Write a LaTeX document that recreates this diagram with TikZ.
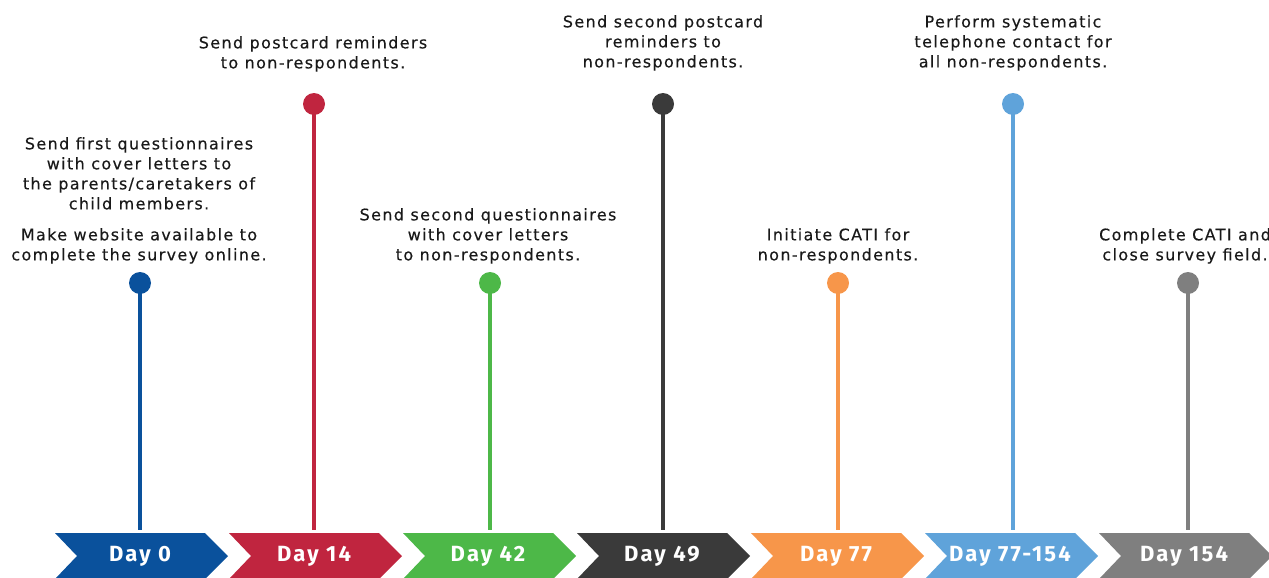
\documentclass[tikz,border=0pt]{standalone}
\usepackage{fontspec}
\setmainfont{DejaVu Sans}[LetterSpace=8.5,FakeBold=0.3]
\newfontfamily\dayfont{Fira Sans}[LetterSpace=10]
\begin{document}
\begin{tikzpicture}[x=1pt,y=-1pt,
  lbl/.style={align=center,font=\fontsize{16}{20}\selectfont,text=black!90,inner sep=0pt,anchor=north},
  daytxt/.style={font=\dayfont\fontsize{22}{22}\selectfont\bfseries,text=white,inner sep=0pt},
  pin/.style={circle,fill=#1,minimum size=22pt,inner sep=0pt},
  stem/.style={draw=#1,line width=4pt}]
\useasboundingbox (0,0) rectangle (1269,578);
\definecolor{cA}{HTML}{0A519C}
\definecolor{cB}{HTML}{C0253F}
\definecolor{cC}{HTML}{4DB848}
\definecolor{cD}{HTML}{3A3A3A}
\definecolor{cE}{HTML}{F7964A}
\definecolor{cF}{HTML}{5FA3DA}
\definecolor{cG}{HTML}{7F7F7F}
\newcommand{\chev}[4]{%
  \fill[#2] (#1,533) -- ++(150,0) -- ++(23,23) -- ++(-23,23) -- ++(-150,0) -- ++(22,-23) -- cycle;
  \node[daytxt] (#4) at (#1+85,556) {#3};}
\chev{55}{cA}{Day 0}{d0}
\chev{229}{cB}{Day 14}{d14}
\chev{403}{cC}{Day 42}{d42}
\chev{577}{cD}{Day 49}{d49}
\chev{751}{cE}{Day 77}{d77}
\chev{925}{cF}{Day 77-154}{d77b}
\chev{1099}{cG}{Day 154}{d154}
% pins
\node[pin=cA] (p0) at (140,283) {};
\node[pin=cB] (p14) at (314,104) {};
\node[pin=cC] (p42) at (490,283) {};
\node[pin=cD] (p49) at (663,104) {};
\node[pin=cE] (p77) at (838,283) {};
\node[pin=cF] (p77b) at (1013,104) {};
\node[pin=cG] (p154) at (1188,283) {};
\coordinate (b0) at (140,530);
\coordinate (b14) at (314,530);
\coordinate (b42) at (490,530);
\coordinate (b49) at (663,530);
\coordinate (b77) at (838,530);
\coordinate (b77b) at (1013,530);
\coordinate (b154) at (1188,530);
\draw[stem=cA] (p0.center) -- (b0);
\draw[stem=cB] (p14.center) -- (b14);
\draw[stem=cC] (p42.center) -- (b42);
\draw[stem=cD] (p49.center) -- (b49);
\draw[stem=cE] (p77.center) -- (b77);
\draw[stem=cF] (p77b.center) -- (b77b);
\draw[stem=cG] (p154.center) -- (b154);
% labels
\node[lbl] (t0a) at (139,137) {Send first questionnaires\\with cover letters to\\the parents/caretakers of\\child members.};
\node[lbl] (t0b) at (139,228) {Make website available to\\complete the survey online.};
\node[lbl] (t14) at (313,36) {Send postcard reminders\\to non-respondents.};
\node[lbl] (t42) at (488,208) {Send second questionnaires\\with cover letters\\to non-respondents.};
\node[lbl] (t49) at (663,15) {Send second postcard\\reminders to\\non-respondents.};
\node[lbl] (t77) at (838,228) {Initiate CATI for\\non-respondents.};
\node[lbl] (t77b) at (1013,15) {Perform systematic\\telephone contact for\\all non-respondents.};
\node[lbl] (t154) at (1185,228) {Complete CATI and\\close survey field.};
\end{tikzpicture}
\end{document}
